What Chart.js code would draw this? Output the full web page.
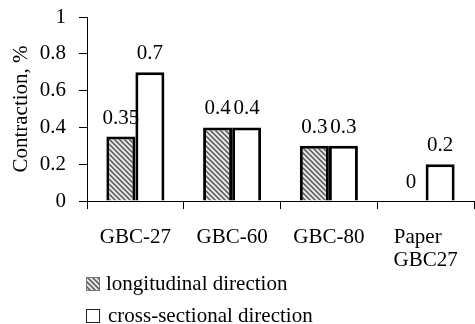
<!DOCTYPE html>
<html>
<head>
<meta charset="utf-8">
<script src="https://cdn.jsdelivr.net/npm/chart.js@4/dist/chart.umd.min.js"></script>
<style>
html,body{margin:0;padding:0;background:#fff;}
#wrap{width:475px;height:324px;position:relative;}
</style>
</head>
<body>
<div id="wrap"><canvas id="c" width="475" height="324"></canvas></div>
<script>
const categories = [["GBC-27"], ["GBC-60"], ["GBC-80"], ["Paper   ", "GBC27"]];
const longitudinal = [0.35, 0.4, 0.3, 0];
const crossSectional = [0.7, 0.4, 0.3, 0.2];
const seriesNames = ["longitudinal direction", "cross-sectional direction"];
const yTicks = [0, 0.2, 0.4, 0.6, 0.8, 1];

const FONT = "'Liberation Serif', 'Times New Roman', serif";

function makeHatch() {
  const p = document.createElement('canvas');
  p.width = 5; p.height = 5;
  const g = p.getContext('2d');
  g.fillStyle = '#e6e6e6';
  g.fillRect(0, 0, 5, 5);
  g.strokeStyle = '#555';
  g.lineWidth = 1.5;
  g.beginPath();
  g.moveTo(-1, -1); g.lineTo(6, 6);
  g.moveTo(-1, 4); g.lineTo(1, 6);
  g.moveTo(4, -1); g.lineTo(6, 1);
  g.stroke();
  return g.createPattern(p, 'repeat');
}
const ctx0 = document.getElementById('c').getContext('2d');
const hatch = makeHatch();

const dataLabels = {
  id: 'dataLabels',
  afterDatasetsDraw(chart) {
    const ctx = chart.ctx;
    ctx.save();
    ctx.font = "21px " + FONT;
    ctx.fillStyle = '#000';
    ctx.textAlign = 'center';
    ctx.textBaseline = 'alphabetic';
    chart.data.datasets.forEach((ds, i) => {
      const meta = chart.getDatasetMeta(i);
      meta.data.forEach((el, j) => {
        ctx.fillText(String(ds.data[j]), el.x, el.y - 13);
      });
    });
    ctx.restore();
  }
};

const customLegend = {
  id: 'customLegend',
  afterDraw(chart) {
    const ctx = chart.ctx;
    ctx.save();
    ctx.font = "21px " + FONT;
    ctx.textBaseline = 'middle';
    ctx.textAlign = 'left';
    const rows = [{y: 284}, {y: 316}];
    chart.data.datasets.forEach((ds, i) => {
      const y = rows[i].y;
      ctx.fillStyle = ds.backgroundColor;
      ctx.fillRect(86, y - 7, 14, 14);
      ctx.strokeStyle = i === 0 ? '#777' : '#222';
      ctx.lineWidth = 1;
      ctx.strokeRect(86.5, y - 6.5, 13, 13);
      ctx.fillStyle = '#000';
      ctx.fillText(ds.label, i === 0 ? 106 : 108, y);
    });
    ctx.restore();
  }
};

new Chart(ctx0, {
  type: 'bar',
  data: {
    labels: categories,
    datasets: [
      {label: seriesNames[0], data: longitudinal, backgroundColor: hatch, borderColor: '#000', borderWidth: 3, borderSkipped: 'bottom'},
      {label: seriesNames[1], data: crossSectional, backgroundColor: '#ffffff', borderColor: '#000', borderWidth: 3, borderSkipped: 'bottom'}
    ]
  },
  options: {
    responsive: false,
    animation: false,
    devicePixelRatio: 1,
    layout: {padding: {left: 0, right: 1, top: 17, bottom: 51}},
    datasets: {bar: {categoryPercentage: 0.6, barPercentage: 1}},
    plugins: {legend: {display: false}, tooltip: {enabled: false}},
    scales: {
      x: {
        grid: {display: true, drawOnChartArea: false, offset: true, color: '#000', tickLength: 8, lineWidth: 1},
        border: {display: true, color: '#000', width: 1},
        ticks: {font: {family: FONT, size: 21, lineHeight: 1.1}, color: '#000', padding: 17, maxRotation: 0, autoSkip: false},
        afterFit(s) { s.height = 72; }
      },
      y: {
        min: 0, max: 1,
        afterBuildTicks(s) { s.ticks = yTicks.map(v => ({value: v})); },
        grid: {display: true, drawOnChartArea: false, color: '#000', tickLength: 8, lineWidth: 1},
        border: {display: true, color: '#000', width: 1},
        ticks: {font: {family: FONT, size: 21}, color: '#000', padding: 13, callback: v => String(v)},
        title: {display: true, text: 'Contraction, %', font: {family: FONT, size: 21}, color: '#000', padding: {top: 9, bottom: 0}},
        afterFit(s) { s.width = 87; s.paddingTop = 0; s.paddingBottom = 0; }
      }
    }
  },
  plugins: [dataLabels, customLegend]
});
</script>
</body>
</html>
